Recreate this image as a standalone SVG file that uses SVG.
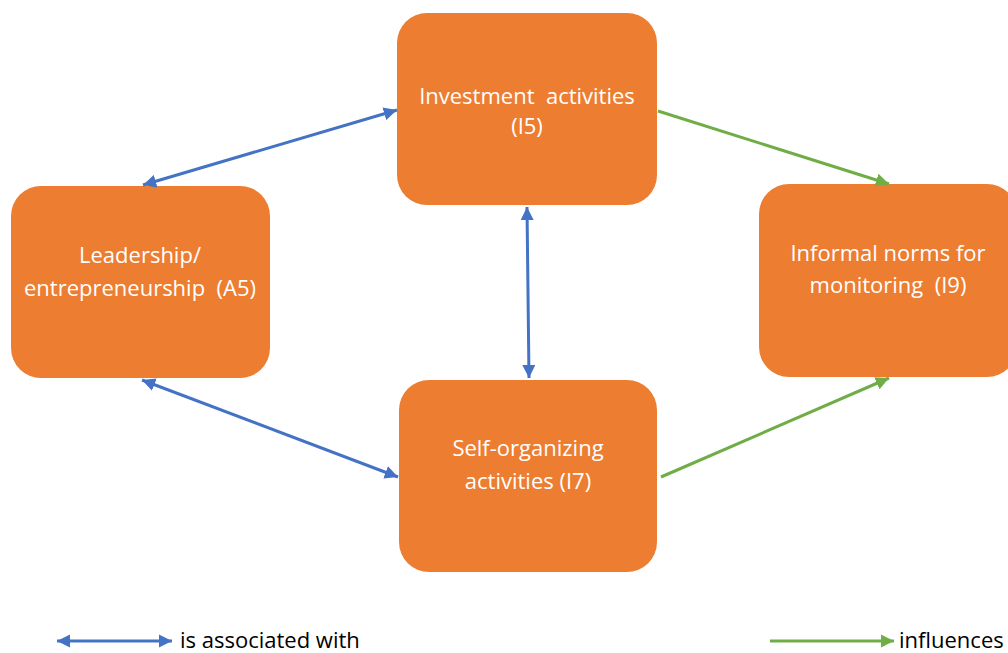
<svg xmlns="http://www.w3.org/2000/svg" width="1008" height="653" viewBox="0 0 1008 653">
<style>
.node rect{fill:#ED7D31;}
.node text{fill:#FFFFFF;font-family:"Open Sans","Liberation Sans",sans-serif;font-size:22px;text-anchor:middle;white-space:pre;}
.blue{stroke:#4472C4;stroke-width:3;fill:none;marker-start:url(#ab);marker-end:url(#ab);}
.green{stroke:#70AD47;stroke-width:3;fill:none;marker-end:url(#ag);}
.legend{font-family:"Open Sans","Liberation Sans",sans-serif;font-size:22px;fill:#000;}
</style>
<defs>
<marker id="ab" viewBox="0 0 4 4" refX="4" refY="2" markerWidth="4.4" markerHeight="4.4" orient="auto-start-reverse" markerUnits="strokeWidth"><path d="M0,0 L4,2 L0,4 z" fill="#4472C4"/></marker>
<marker id="ag" viewBox="0 0 4 4" refX="4" refY="2" markerWidth="4.4" markerHeight="4.4" orient="auto" markerUnits="strokeWidth"><path d="M0,0 L4,2 L0,4 z" fill="#70AD47"/></marker>
</defs>
<rect width="1008" height="653" fill="#FFFFFF"/>
<g id="n-investment" class="node"><rect x="397" y="13" width="260" height="192" rx="30"/><text x="527" y="104">Investment  activities</text><text x="527" y="134">(I5)</text></g>
<g id="n-leadership" class="node"><rect x="11" y="186" width="259" height="192" rx="30"/><text x="140" y="263">Leadership/</text><text x="140" y="296">entrepreneurship  (A5)</text></g>
<g id="n-informal" class="node"><rect x="759" y="184" width="258" height="193" rx="30"/><text x="888" y="261">Informal norms for</text><text x="888" y="293">monitoring  (I9)</text></g>
<g id="n-self" class="node"><rect x="399" y="380" width="258" height="192" rx="30"/><text x="528" y="456">Self-organizing</text><text x="528" y="489">activities (I7)</text></g>
<g id="connectors">
<line class="blue" x1="143" y1="185" x2="397" y2="110"/>
<line class="blue" x1="142" y1="380" x2="398" y2="477"/>
<line class="blue" x1="527" y1="207" x2="529" y2="378"/>
<line class="green" x1="658" y1="111" x2="889" y2="184"/>
<line class="green" x1="661" y1="477" x2="889" y2="378"/>
</g>
<g id="legend">
<line class="blue" x1="57" y1="641" x2="172" y2="641"/>
<text class="legend" x="180" y="648">is associated with</text>
<line class="green" x1="770" y1="641" x2="894" y2="641"/>
<text class="legend" x="899" y="648">influences</text>
</g>
</svg>
